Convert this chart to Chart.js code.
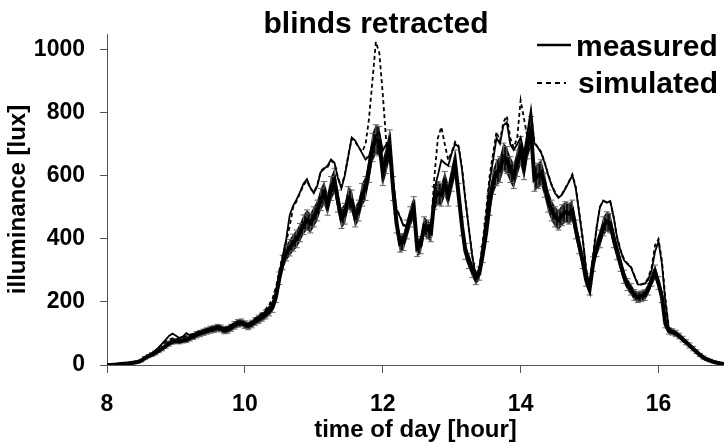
<!DOCTYPE html>
<html>
<head>
<meta charset="utf-8">
<script src="https://cdn.jsdelivr.net/npm/chart.js@4.4.1/dist/chart.umd.min.js"></script>
<style>
  html, body { margin: 0; padding: 0; background: #fff; }
  #wrap { width: 724px; height: 446px; }
</style>
</head>
<body>
<div id="wrap"><canvas id="chart"></canvas></div>
<script>
// time of day [hour]
const hours = [
  8.00, 8.05, 8.10, 8.15, 8.20, 8.25, 8.30, 8.35, 8.40, 8.45,
  8.50, 8.55, 8.60, 8.65, 8.70, 8.75, 8.80, 8.85, 8.90, 8.95,
  9.00, 9.05, 9.10, 9.15, 9.20, 9.25, 9.30, 9.35, 9.40, 9.45,
  9.50, 9.55, 9.60, 9.65, 9.70, 9.75, 9.80, 9.85, 9.90, 9.95,
  10.00, 10.05, 10.10, 10.15, 10.20, 10.25, 10.30, 10.35, 10.40, 10.45,
  10.50, 10.55, 10.60, 10.65, 10.70, 10.75, 10.80, 10.85, 10.90, 10.95,
  11.00, 11.05, 11.10, 11.15, 11.20, 11.25, 11.30, 11.35, 11.40, 11.45,
  11.50, 11.55, 11.60, 11.65, 11.70, 11.75, 11.80, 11.85, 11.90, 11.95,
  12.00, 12.05, 12.10, 12.15, 12.20, 12.25, 12.30, 12.35, 12.40, 12.45,
  12.50, 12.55, 12.60, 12.65, 12.70, 12.75, 12.80, 12.85, 12.90, 12.95,
  13.00, 13.05, 13.10, 13.15, 13.20, 13.25, 13.30, 13.35, 13.40, 13.45,
  13.50, 13.55, 13.60, 13.65, 13.70, 13.75, 13.80, 13.85, 13.90, 13.95,
  14.00, 14.05, 14.10, 14.15, 14.20, 14.25, 14.30, 14.35, 14.40, 14.45,
  14.50, 14.55, 14.60, 14.65, 14.70, 14.75, 14.80, 14.85, 14.90, 14.95,
  15.00, 15.05, 15.10, 15.15, 15.20, 15.25, 15.30, 15.35, 15.40, 15.45,
  15.50, 15.55, 15.60, 15.65, 15.70, 15.75, 15.80, 15.85, 15.90, 15.95,
  16.00, 16.05, 16.10, 16.15, 16.20, 16.25, 16.30, 16.35, 16.40, 16.45,
  16.50, 16.55, 16.60, 16.65, 16.70, 16.75, 16.80, 16.85, 16.90, 16.95
];

// illuminance [lux]
const measured = [
  0, 0, 1, 2, 3, 4, 5, 6, 8, 11,
  15, 22, 30, 37, 45, 56, 68, 80, 92, 100,
  93, 86, 90, 101, 95, 98, 102, 106, 110, 113,
  116, 119, 124, 120, 116, 120, 126, 132, 136, 138,
  132, 128, 136, 145, 152, 160, 170, 182, 198, 232,
  290, 345, 400, 475, 505, 525, 548, 575, 590, 562,
  545, 568, 612, 622, 632, 652, 642, 592, 560, 602,
  662, 722, 712, 692, 672, 652, 662, 700, 728, 738,
  680, 700, 660, 580, 492, 470, 442, 440, 478, 482,
  382, 392, 442, 442, 432, 560, 602, 650, 640, 632,
  672, 702, 692, 620, 520, 430, 342, 282, 300, 380,
  470, 580, 650, 720, 702, 760, 770, 700, 682, 700,
  722, 672, 740, 810, 702, 690, 672, 640, 602, 570,
  545, 530, 540, 560, 580, 602, 560, 480, 400, 302,
  245, 340, 432, 500, 522, 515, 520, 470, 402, 362,
  332, 320, 310, 282, 256, 255, 258, 270, 300, 360,
  392, 320, 200, 115, 108, 102, 95, 85, 75, 65,
  55, 45, 35, 27, 20, 15, 11, 8, 6, 4
];

const simulated = [
  0, 0, 1, 2, 3, 4, 5, 7, 9, 12,
  16, 24, 31, 38, 46, 55, 64, 72, 80, 84,
  84, 82, 86, 92, 94, 98, 103, 107, 111, 114,
  117, 120, 124, 121, 117, 121, 127, 133, 138, 139,
  133, 130, 138, 148, 156, 165, 176, 190, 210, 245,
  300, 350, 390, 440, 500, 520, 545, 570, 585, 560,
  548, 570, 615, 625, 628, 648, 640, 595, 565, 605,
  665, 718, 708, 690, 676, 700, 780, 900, 1025, 990,
  860, 710, 665, 585, 495, 472, 445, 442, 480, 485,
  385, 395, 445, 445, 440, 600, 720, 755, 700, 650,
  675, 708, 695, 625, 525, 432, 345, 284, 305, 390,
  490, 600, 670, 740, 710, 770, 790, 720, 690, 720,
  840, 780, 720, 800, 705, 692, 675, 642, 605, 572,
  548, 532, 542, 562, 582, 605, 565, 485, 405, 305,
  248, 345, 435, 502, 520, 517, 518, 468, 405, 365,
  335, 322, 312, 284, 258, 256, 260, 275, 310, 380,
  400, 330, 210, 118, 110, 103, 96, 86, 76, 66,
  56, 46, 36, 28, 21, 15, 11, 8, 6, 4
];

// lower curve drawn with error bars
const band = [
  0, 0, 1, 2, 3, 4, 5, 6, 8, 10,
  14, 22, 28, 33, 38, 45, 52, 60, 68, 74,
  76, 75, 78, 80, 85, 90, 96, 100, 104, 108,
  112, 114, 118, 116, 110, 112, 118, 126, 132, 134,
  128, 124, 130, 138, 145, 152, 160, 170, 182, 215,
  275, 325, 355, 372, 388, 400, 420, 445, 460, 450,
  470, 490, 525, 545, 510, 560, 585, 520, 465, 480,
  530, 520, 470, 490, 540, 560, 620, 690, 715, 710,
  610, 650, 700, 560, 450, 385, 390, 430, 470, 500,
  370, 380, 440, 430, 420, 530, 545, 540, 575, 540,
  590, 640, 540, 440, 360, 330, 300, 275, 290, 350,
  420, 510, 580, 610, 620, 660, 650, 620, 600, 640,
  680, 630, 700, 740, 590, 600, 610, 570, 520, 490,
  470, 460, 475, 485, 480, 490, 430, 380, 330, 270,
  240, 320, 370, 400, 440, 455, 450, 400, 360, 320,
  280, 255, 240, 222, 215, 218, 222, 240, 270, 295,
  260, 215, 130, 108, 105, 100, 92, 82, 72, 62,
  52, 42, 32, 24, 18, 14, 10, 7, 5, 3
];

const bandErr = [
  2, 2, 2, 3, 3, 3, 3, 3, 4, 4,
  4, 5, 5, 6, 6, 6, 7, 7, 8, 8,
  8, 8, 8, 9, 9, 9, 10, 10, 10, 10,
  11, 11, 11, 11, 11, 11, 11, 12, 12, 12,
  12, 12, 12, 12, 13, 13, 14, 14, 15, 17,
  20, 23, 25, 26, 27, 28, 29, 31, 32, 31,
  32, 33, 35, 37, 35, 38, 39, 35, 32, 33,
  36, 35, 32, 33, 36, 38, 41, 45, 47, 47,
  41, 43, 46, 38, 31, 27, 27, 30, 32, 34,
  26, 27, 30, 30, 29, 36, 37, 36, 39, 36,
  39, 42, 36, 30, 25, 24, 22, 20, 21, 25,
  29, 35, 39, 41, 41, 44, 43, 41, 40, 42,
  45, 42, 46, 48, 39, 40, 41, 38, 35, 33,
  32, 32, 33, 33, 33, 33, 30, 27, 24, 20,
  18, 23, 26, 28, 30, 31, 31, 28, 26, 23,
  21, 19, 18, 17, 17, 17, 17, 18, 20, 22,
  20, 17, 12, 10, 10, 10, 9, 9, 8, 8,
  7, 6, 5, 5, 4, 4, 4, 3, 3, 3
];

const xTicks = [8, 10, 12, 14, 16];
const yTicks = [0, 200, 400, 600, 800, 1000];

const FONT = "'Liberation Sans', Arial, sans-serif";
const toPoints = (vals) => hours.map((h, i) => ({ x: h, y: vals[i] }));

// error band: dark fill between the bar ends, then the bars and caps on top
const errorBars = {
  id: "errorBars",
  beforeDatasetsDraw(chart) {
    const { ctx, chartArea, scales } = chart;
    const x = scales.x;
    const y = scales.y;
    const hi = (i) => y.getPixelForValue(band[i] + bandErr[i]);
    const lo = (i) => y.getPixelForValue(Math.max(0, band[i] - bandErr[i]));
    ctx.save();
    ctx.beginPath();
    ctx.rect(chartArea.left, chartArea.top, chartArea.width, chartArea.height + 2);
    ctx.clip();

    ctx.fillStyle = "#111";
    ctx.beginPath();
    hours.forEach((h, i) => {
      const px = x.getPixelForValue(h);
      if (i === 0) ctx.moveTo(px, hi(i));
      else ctx.lineTo(px, hi(i));
    });
    for (let i = hours.length - 1; i >= 0; i--) {
      ctx.lineTo(x.getPixelForValue(hours[i]), lo(i));
    }
    ctx.closePath();
    ctx.fill();

    ctx.strokeStyle = "#666";
    ctx.lineWidth = 1;
    hours.forEach((h, i) => {
      const px = x.getPixelForValue(h);
      const top = hi(i);
      const bot = lo(i);
      ctx.beginPath();
      ctx.moveTo(px, top);
      ctx.lineTo(px, bot);
      ctx.moveTo(px - 3, top);
      ctx.lineTo(px + 3, top);
      ctx.moveTo(px - 3, bot);
      ctx.lineTo(px + 3, bot);
      ctx.stroke();
    });
    ctx.restore();
  },
};

// title and legend
const headerAndLegend = {
  id: "headerAndLegend",
  afterDraw(chart) {
    const { ctx } = chart;
    ctx.save();
    ctx.fillStyle = "#000";
    ctx.textBaseline = "alphabetic";
    ctx.font = `bold 30px ${FONT}`;
    ctx.textAlign = "center";
    ctx.fillText("blinds retracted", 376, 33);

    ctx.textAlign = "left";
    ctx.strokeStyle = "#000";
    ctx.lineWidth = 2.5;
    ctx.beginPath();
    ctx.moveTo(537, 45);
    ctx.lineTo(571, 45);
    ctx.stroke();
    ctx.fillText("measured", 576, 56);

    ctx.lineWidth = 2;
    ctx.setLineDash([5, 4]);
    ctx.beginPath();
    ctx.moveTo(537, 83);
    ctx.lineTo(566, 83);
    ctx.stroke();
    ctx.setLineDash([]);
    ctx.fillText("simulated", 578, 93);
    ctx.restore();
  },
};

new Chart(document.getElementById("chart"), {
  type: "line",
  data: {
    datasets: [
      {
        label: "measured",
        data: toPoints(measured),
        borderColor: "#000",
        borderWidth: 1.8,
        pointRadius: 0,
        tension: 0,
      },
      {
        label: "simulated",
        data: toPoints(simulated),
        borderColor: "#000",
        borderWidth: 1.8,
        borderDash: [4, 3],
        pointRadius: 0,
        tension: 0,
      },
      {
        label: "band",
        data: toPoints(band),
        borderColor: "#000",
        borderWidth: 4,
        pointRadius: 0,
        tension: 0,
      },
    ],
  },
  options: {
    responsive: true,
    maintainAspectRatio: false,
    animation: false,
    devicePixelRatio: 1,
    layout: { padding: { top: 34, right: 0, left: 0, bottom: 0 } },
    plugins: {
      legend: { display: false },
      title: { display: false },
      tooltip: { enabled: false },
    },
    scales: {
      x: {
        type: "linear",
        min: 8,
        max: 16.95,
        afterFit: (scale) => { scale.height = 81; },
        afterBuildTicks: (scale) => { scale.ticks = xTicks.map((v) => ({ value: v })); },
        border: { display: true, color: "#555", width: 1 },
        grid: { drawOnChartArea: false, drawTicks: true, tickLength: 8, color: "#555" },
        ticks: {
          color: "#000",
          padding: 18,
          maxRotation: 0,
          callback: (v) => String(v),
          font: { family: FONT, size: 23, weight: "bold" },
        },
        title: {
          display: true,
          text: "time of day [hour]",
          color: "#000",
          padding: { top: 0, bottom: 1 },
          font: { family: FONT, size: 24, weight: "bold" },
        },
      },
      y: {
        min: 0,
        max: 1050,
        afterFit: (scale) => { scale.width = 107; },
        afterBuildTicks: (scale) => { scale.ticks = yTicks.map((v) => ({ value: v })); },
        border: { display: true, color: "#555", width: 1 },
        grid: { drawOnChartArea: false, drawTicks: true, tickLength: 7, color: "#555" },
        ticks: {
          color: "#000",
          padding: 15,
          callback: (v) => String(v),
          font: { family: FONT, size: 23, weight: "bold" },
        },
        title: {
          display: true,
          text: "illuminance [lux]",
          color: "#000",
          padding: { top: 4, bottom: 0 },
          font: { family: FONT, size: 24, weight: "bold" },
        },
      },
    },
  },
  plugins: [errorBars, headerAndLegend],
});
</script>
</body>
</html>
